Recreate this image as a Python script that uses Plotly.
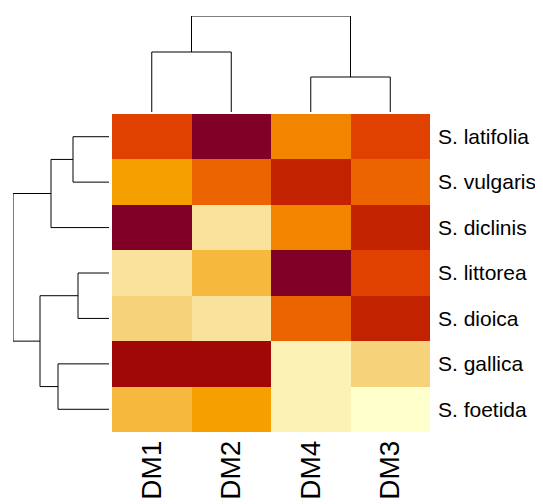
import plotly.graph_objects as go

# ---- data ----
col_labels = ["DM1", "DM2", "DM4", "DM3"]
row_labels = ["S. latifolia", "S. vulgaris", "S. diclinis", "S. littorea",
              "S. dioica", "S. gallica", "S. foetida"]
# colour level (0 = palest, 11 = darkest) per cell, rows x cols
z_latifolia = [8, 11, 6, 8]
z_vulgaris = [5, 7, 9, 7]
z_diclinis = [11, 2, 6, 9]
z_littorea = [2, 4, 11, 8]
z_dioica = [3, 2, 7, 9]
z_gallica = [10, 10, 1, 3]
z_foetida = [4, 5, 1, 0]

palette = ["#FFFFCC", "#FDF2B6", "#F9E29C", "#F6D27A", "#F6B93E", "#F5A000",
           "#F28400", "#EC6400", "#E04000", "#C22200", "#A00808", "#800026"]

# dendrogram merges: (left node, right node, height); leaves are 0..n-1 in display order,
# merged clusters get ids n, n+1, ...
col_merges = [(2, 3, 35), (0, 1, 60), (5, 4, 96)]
row_merges = [(3, 4, 31), (0, 1, 36), (5, 6, 51), (8, 2, 58), (9, 7, 69), (11, 10, 96)]

OFF = 8  # page body margin
W, H = 543 - OFF, 504 - OFF
hm_left, hm_right, hm_top, hm_bottom = 112 - OFF, 430 - OFF, 114 - OFF, 432 - OFF
cd_top, cd_bottom = 16 - OFF, 112 - OFF   # column dendrogram pixel extent
rd_left, rd_right = 13 - OFF, 109 - OFF   # row dendrogram pixel extent


def dendro_segments(n, merges):
    pos = {i: float(i) for i in range(n)}
    hgt = {i: 0.0 for i in range(n)}
    segs = []
    for k, (a, b, h) in enumerate(merges):
        nid = n + k
        segs.append([(pos[a], hgt[a]), (pos[a], h), (pos[b], h), (pos[b], hgt[b])])
        pos[nid] = (pos[a] + pos[b]) / 2
        hgt[nid] = h
    return segs


z = [z_latifolia, z_vulgaris, z_diclinis, z_littorea, z_dioica, z_gallica, z_foetida]
nlev = len(palette)
cs = []
for i, c in enumerate(palette):
    cs.append([i / nlev, c])
    cs.append([(i + 1) / nlev, c])

fig = go.Figure()
fig.add_trace(go.Heatmap(z=z, x=list(range(len(col_labels))), y=list(range(len(row_labels))),
                         colorscale=cs, zmin=-0.5, zmax=nlev - 0.5, showscale=False,
                         xgap=0, ygap=0, hoverinfo="skip"))

# column dendrogram
for seg in dendro_segments(len(col_labels), col_merges):
    fig.add_trace(go.Scatter(x=[p[0] for p in seg], y=[p[1] for p in seg], mode="lines",
                             line=dict(color="black", width=1), xaxis="x", yaxis="y2",
                             showlegend=False, hoverinfo="skip"))
# row dendrogram
for seg in dendro_segments(len(row_labels), row_merges):
    fig.add_trace(go.Scatter(x=[p[1] for p in seg], y=[p[0] for p in seg], mode="lines",
                             line=dict(color="black", width=1), xaxis="x2", yaxis="y",
                             showlegend=False, hoverinfo="skip"))

col_max = max(m[2] for m in col_merges)
row_max = max(m[2] for m in row_merges)

fig.update_layout(
    width=W, height=H, margin=dict(l=0, r=0, t=0, b=0),
    paper_bgcolor="white", plot_bgcolor="rgba(0,0,0,0)",
    font=dict(family="Liberation Sans, Arial, sans-serif", color="black"),
    xaxis=dict(domain=[hm_left / W, hm_right / W], range=[-0.5, len(col_labels) - 0.5],
               tickmode="array", tickvals=list(range(len(col_labels))), ticktext=col_labels,
               tickangle=-90, tickfont=dict(size=28), ticks="", ticklabelstandoff=2,
               showgrid=False, zeroline=False, showline=False, anchor="y"),
    yaxis=dict(domain=[1 - hm_bottom / H, 1 - hm_top / H],
               range=[len(row_labels) - 0.5, -0.5],
               tickmode="array", tickvals=list(range(len(row_labels))), ticktext=row_labels,
               side="right", tickfont=dict(size=21), ticks="", ticklabelstandoff=7,
               showgrid=False, zeroline=False, showline=False, anchor="x"),
    yaxis2=dict(domain=[1 - cd_bottom / H, 1 - cd_top / H], range=[0, col_max],
                visible=False, anchor="x"),
    xaxis2=dict(domain=[rd_left / W, rd_right / W], range=[row_max, 0],
                visible=False, anchor="y"),
)

fig.write_html("out.html")
